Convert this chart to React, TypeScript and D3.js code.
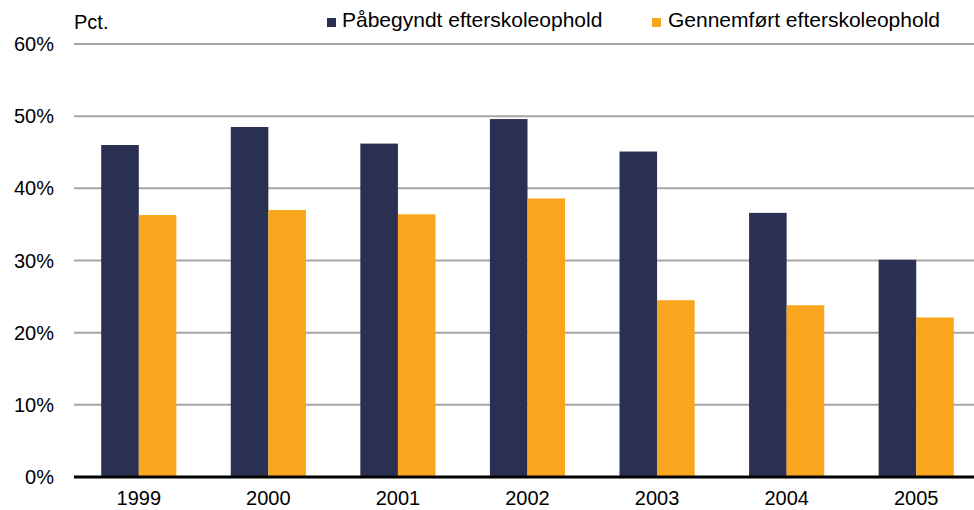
import React from "react";
import * as d3 from "d3";

const categories = ["1999", "2000", "2001", "2002", "2003", "2004", "2005"];
const startedValues = [46.0, 48.5, 46.2, 49.6, 45.1, 36.6, 30.1];
const completedValues = [36.3, 37.0, 36.4, 38.6, 24.5, 23.8, 22.1];
const seriesNames = ["Påbegyndt efterskoleophold", "Gennemført efterskoleophold"];
const yTicks = [0, 10, 20, 30, 40, 50, 60];

const W = 974;
const H = 510;
const left = 74;
const right = 981;
const top = 44;
const bottom = 477;
const colors = ["#2a3052", "#f9a61e"];
const font = "Liberation Sans, Arial, sans-serif";

export default function App() {
  const x = d3.scaleBand<string>().domain(categories).range([left, right]).paddingInner(0.42).paddingOuter(0.21);
  const y = d3.scaleLinear().domain([0, 60]).range([bottom, top]);
  const bw = x.bandwidth() / 2;
  const series = [startedValues, completedValues];
  return (
    <svg width={W} height={H} style={{ position: "absolute", left: 0, top: 0, background: "#fff" }}>
      {yTicks.map((t) => (
        <g key={t}>
          {t > 0 && <line x1={left} x2={W} y1={y(t)} y2={y(t)} stroke="#a6a6a6" strokeWidth={2} />}
          <text x={54} y={y(t) + 7} textAnchor="end" fontFamily={font} fontSize={20} fill="#000">
            {t}%
          </text>
        </g>
      ))}
      {series.map((vals, si) =>
        vals.map((v, i) => (
          <rect
            key={si + "-" + i}
            x={(x(categories[i]) as number) + si * bw}
            y={y(v)}
            width={bw}
            height={bottom - y(v)}
            fill={colors[si]}
          />
        ))
      )}
      <line x1={left} x2={W} y1={bottom} y2={bottom} stroke="#000" strokeWidth={3} />
      {categories.map((c) => (
        <text key={c} x={(x(c) as number) + x.bandwidth() / 2} y={505} textAnchor="middle" fontFamily={font} fontSize={20} fill="#000">
          {c}
        </text>
      ))}
      <text x={74} y={29} fontFamily={font} fontSize={20} fill="#000">Pct.</text>
      <rect x={327} y={18} width={9} height={9} fill={colors[0]} />
      <text x={342} y={27} fontFamily={font} fontSize={21} fill="#000">{seriesNames[0]}</text>
      <rect x={652} y={18} width={9} height={9} fill={colors[1]} />
      <text x={668} y={27} fontFamily={font} fontSize={21} fill="#000">{seriesNames[1]}</text>
    </svg>
  );
}
